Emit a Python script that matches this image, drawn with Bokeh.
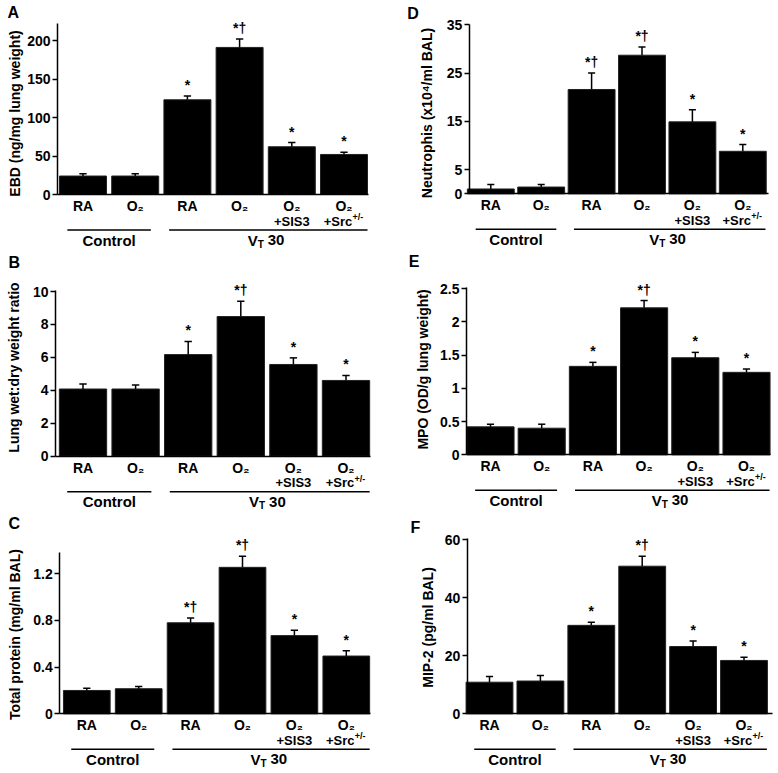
import numpy as np
from bokeh.plotting import figure
from bokeh.layouts import row, column
from bokeh.models import Range1d, FixedTicker, NumeralTickFormatter
from bokeh.core.properties import value
from bokeh.embed import file_html
from bokeh.resources import INLINE

# ---------------- data ----------------
positions = [1, 2, 3, 4, 5, 6]
cat_main = ["RA", "O\u2082", "RA", "O\u2082", "O\u2082", "O\u2082"]
cat_sub = ["", "", "", "", "+SIS3", "+Src"]
group_names = ["Control", "V"]

ebd_mean = [24, 24, 123, 191, 62, 52]
ebd_err = [3, 3, 5, 11, 5.5, 3]
ebd_sig = ["", "", "*", "*\u2020", "*", "*"]

wetdry_mean = [4.08, 4.08, 6.17, 8.48, 5.57, 4.6]
wetdry_err = [0.3, 0.25, 0.8, 0.93, 0.4, 0.3]
wetdry_sig = ["", "", "*", "*\u2020", "*", "*"]

protein_mean = [0.20, 0.215, 0.78, 1.255, 0.67, 0.495]
protein_err = [0.02, 0.02, 0.04, 0.095, 0.045, 0.045]
protein_sig = ["", "", "*\u2020", "*\u2020", "*", "*"]

neut_mean = [1.0, 1.4, 21.6, 28.7, 14.9, 8.8]
neut_err = [0.9, 0.5, 3.4, 1.7, 2.5, 1.4]
neut_sig = ["", "", "*\u2020", "*\u2020", "*", "*"]

mpo_mean = [0.42, 0.40, 1.33, 2.21, 1.46, 1.24]
mpo_err = [0.04, 0.06, 0.06, 0.11, 0.08, 0.05]
mpo_sig = ["", "", "*", "*\u2020", "*", "*"]

mip_mean = [10.9, 11.3, 30.5, 50.9, 23.2, 18.4]
mip_err = [2.0, 1.9, 1.1, 3.4, 1.9, 1.1]
mip_sig = ["", "", "*", "*\u2020", "*", "*"]

ebd_ticks = [0, 50, 100, 150, 200]
wetdry_ticks = [0, 2, 4, 6, 8, 10]
protein_ticks = [0, 0.4, 0.8, 1.2]
neut_ticks = [0, 5, 15, 25, 35]
mpo_ticks = [0, 0.5, 1, 1.5, 2, 2.5]
mip_ticks = [0, 20, 40, 60]

FONT_NAME = "Liberation Sans"
FONT = value(FONT_NAME)


def make_panel(letter, ylabel, mean, err, sig, ticks, ymax, spec):
    w, h = spec["w"], spec["h"]
    base, ppu, sp, c1 = spec["base"], spec["ppu"], spec["sp"], spec["c1"]
    below = h - base
    xs = 1 - c1 / sp
    xe = xs + w / sp

    def px2x(cx):
        return xs + cx / sp

    axis_x = px2x(spec["axis"])
    end_x = px2x(spec["end"])

    p = figure(width=w, height=h, title=None,
               x_range=Range1d(xs, xe),
               y_range=Range1d(-below / ppu, base / ppu),
               output_backend="svg", toolbar_location=None,
               min_border_left=0, min_border_right=0,
               min_border_top=0, min_border_bottom=0,
               x_axis_location="below", y_axis_location="left")
    p.extra_y_ranges = {"px": Range1d(-below, base)}
    p.grid.visible = False
    p.outline_line_color = None
    p.background_fill_color = "white"
    p.border_fill_color = "white"

    ay = p.yaxis[0]
    ay.fixed_location = axis_x
    ay.bounds = (0, ymax)
    ay.ticker = FixedTicker(ticks=ticks)
    ay.formatter = NumeralTickFormatter(format="0.[0]")
    ay.minor_tick_line_color = None
    ay.major_tick_in = 0
    ay.major_tick_out = 5
    ay.major_tick_line_width = 1.5
    ay.axis_line_width = 1.5
    ay.major_label_standoff = 2
    ay.major_label_text_font = FONT_NAME
    ay.major_label_text_font_style = "bold"
    ay.major_label_text_font_size = "14px"
    ay.major_label_text_color = "black"

    axx = p.xaxis[0]
    axx.fixed_location = 0
    axx.bounds = (axis_x, end_x)
    axx.ticker = FixedTicker(ticks=[])
    axx.major_tick_line_color = None
    axx.minor_tick_line_color = None
    axx.major_label_text_font_size = "0px"
    axx.axis_line_width = 1.5

    x = np.array(positions, dtype=float)
    m = np.array(mean, dtype=float)
    e = np.array(err, dtype=float)
    tops = m + e
    bw = spec["bw"]

    p.vbar(x=x, width=bw, top=m, bottom=0, fill_color="black", line_color="#222222", line_width=1)
    p.segment(x0=x, y0=m, x1=x, y1=tops, line_color="black", line_width=1.5)
    p.segment(x0=x - 0.07, y0=tops, x1=x + 0.07, y1=tops, line_color="black", line_width=1.5)
    p.text(x=x, y=tops, text=sig, y_offset=-3, text_align="center", text_baseline="bottom",
           text_font=FONT, text_font_style="bold", text_font_size="14px", text_color="black")

    # category labels
    p.text(x=x, y=[-11.5] * 6, text=cat_main, y_range_name="px", text_align="center",
           text_baseline="middle", text_font=FONT, text_font_style="bold",
           text_font_size="14px", text_color="black")
    p.text(x=x[4:5], y=[-26.5], text=cat_sub[4:5], y_range_name="px", text_align="center",
           text_baseline="middle", text_font=FONT, text_font_style="bold",
           text_font_size="13px", text_color="black")
    p.text(x=x[5:6], y=[-26.5], text=cat_sub[5:6], y_range_name="px", x_offset=-6,
           text_align="center", text_baseline="middle", text_font=FONT,
           text_font_style="bold", text_font_size="13px", text_color="black")
    p.text(x=x[5:6], y=[-22.5], text=["+/-"], y_range_name="px", x_offset=8.5,
           text_align="left", text_baseline="middle", text_font=FONT,
           text_font_style="bold", text_font_size="9px", text_color="black")

    # group lines and labels
    p.segment(x0=[0.7, 2.65], x1=[2.3, 6.45], y0=[-35.5, -35.5], y1=[-35.5, -35.5],
              y_range_name="px", line_color="black", line_width=1.5)
    p.text(x=[1.5], y=[-45.5], text=[group_names[0]], y_range_name="px", text_align="center",
           text_baseline="middle", text_font=FONT, text_font_style="bold",
           text_font_size="15px", text_color="black")
    p.text(x=[4.5], y=[-45.5], text=["V"], y_range_name="px", x_offset=-8, text_align="right",
           text_baseline="middle", text_font=FONT, text_font_style="bold",
           text_font_size="15px", text_color="black")
    p.text(x=[4.5], y=[-49.5], text=["T"], y_range_name="px", x_offset=-8, text_align="left",
           text_baseline="middle", text_font=FONT, text_font_style="bold",
           text_font_size="10px", text_color="black")
    p.text(x=[4.5], y=[-45.5], text=["30"], y_range_name="px", x_offset=2, text_align="left",
           text_baseline="middle", text_font=FONT, text_font_style="bold",
           text_font_size="15px", text_color="black")

    # y-axis title and panel letter
    p.text(x=[px2x(spec["ylx"])], y=[spec["yly"]], text=[ylabel], y_range_name="px",
           angle=np.pi / 2, text_align="center", text_baseline="middle",
           text_font=FONT, text_font_style="bold", text_font_size="14px", text_color="black")
    p.text(x=[px2x(spec["lx"])], y=[spec["ly"]], text=[letter], y_range_name="px",
           text_align="left", text_baseline="middle",
           text_font=FONT, text_font_style="bold", text_font_size="16px", text_color="black")
    return p


specA = dict(w=389, h=250, axis=57, c1=82.5, sp=52.2, end=368, base=194, ppu=0.77,
             bw=0.9, ylx=14.5, yly=81, lx=7, ly=182.5)
specB = dict(w=389, h=260, axis=55, c1=82.5, sp=52.6, end=370, base=205.7, ppu=16.47,
             bw=0.9, ylx=13.3, yly=88.7, lx=8, ly=194)
specC = dict(w=389, h=262, axis=59.3, c1=86.3, sp=51.9, end=370, base=203.3, ppu=116.7,
             bw=0.9, ylx=14, yly=79.3, lx=8, ly=190.8)
specD = dict(w=389, h=250, axis=79.7, c1=101.3, sp=50.4, end=379, base=193.3, ppu=4.829,
             bw=0.93, ylx=37, yly=80.8, lx=17.7, ly=180.8)
specE = dict(w=389, h=260, axis=77, c1=101, sp=51.2, end=381, base=204.3, ppu=66.5,
             bw=0.92, ylx=33.5, yly=85.3, lx=19.3, ly=193.3)
specF = dict(w=389, h=262, axis=77.7, c1=100, sp=50.9, end=382.7, base=203.3, ppu=2.9,
             bw=0.92, ylx=38.5, yly=88.3, lx=21, ly=186.6)

pA = make_panel("A", "EBD (ng/mg lung weight)", ebd_mean, ebd_err, ebd_sig, ebd_ticks, 222, specA)
pB = make_panel("B", "Lung wet:dry weight ratio", wetdry_mean, wetdry_err, wetdry_sig, wetdry_ticks, 10.05, specB)
pC = make_panel("C", "Total protein (mg/ml BAL)", protein_mean, protein_err, protein_sig, protein_ticks, 1.385, specC)
pD = make_panel("D", "Neutrophis (x10\u2074/ml BAL)", neut_mean, neut_err, neut_sig, neut_ticks, 35, specD)
pE = make_panel("E", "MPO (OD/g lung weight)", mpo_mean, mpo_err, mpo_sig, mpo_ticks, 2.52, specE)
pF = make_panel("F", "MIP-2  (pg/ml BAL)", mip_mean, mip_err, mip_sig, mip_ticks, 60.3, specF)

layout = row(column(pA, pB, pC), column(pD, pE, pF))

with open("out.html", "w") as f:
    f.write(file_html(layout, INLINE))
